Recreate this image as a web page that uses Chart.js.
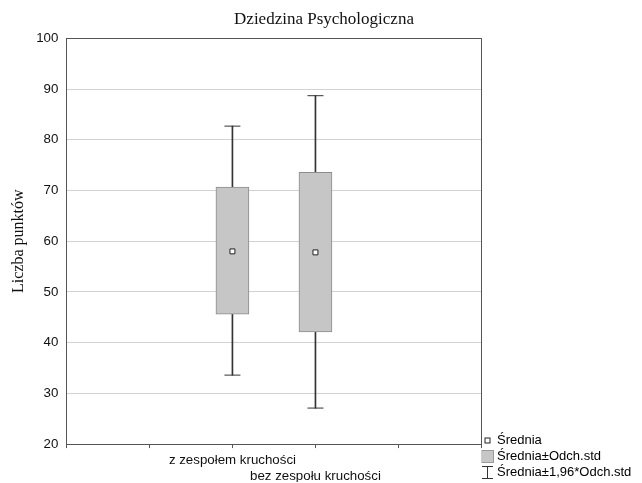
<!DOCTYPE html>
<html>
<head>
<meta charset="utf-8">
<script src="https://cdn.jsdelivr.net/npm/chart.js@4"></script>
<style>
  html, body { margin: 0; padding: 0; background: #fff; }
  #wrap { width: 642px; height: 483px; }
</style>
</head>
<body>
<div id="wrap"><canvas id="chart" width="642" height="483"></canvas></div>
<script>
// groups and their statistics
const categories = ['z zespołem kruchości', 'bez zespołu kruchości']
const means = [58.0, 57.8]
const sdLow = [45.6, 42.1]
const sdHigh = [70.7, 73.6]
const ciLow = [33.6, 27.1]
const ciHigh = [82.7, 88.7]
const slotCount = 6
const slotOf = [2, 3]
const legendNames = ['Średnia', 'Średnia±Odch.std', 'Średnia±1,96*Odch.std']

const SANS = "'Liberation Sans', Arial, sans-serif"
const SERIF = "'Liberation Serif', 'Times New Roman', serif"

// x axis slots, categories sit on the middle ticks, labels staggered
const slotLabels = []
for (let i = 0; i < slotCount; i++) slotLabels.push('')
slotLabels[slotOf[0]] = [categories[0], '']
slotLabels[slotOf[1]] = ['', categories[1]]

function toSlots (values) {
  const out = slotLabels.map(() => null)
  values.forEach((v, i) => { out[slotOf[i]] = v })
  return out
}

// small legend icons
function makeIcon (w, h, draw) {
  const c = document.createElement('canvas')
  c.width = w
  c.height = h
  draw(c.getContext('2d'))
  return c
}
const meanIcon = makeIcon(8, 8, ctx => {
  ctx.fillStyle = '#fff'
  ctx.fillRect(1, 1, 6, 6)
  ctx.strokeStyle = '#222'
  ctx.lineWidth = 1
  ctx.strokeRect(1.5, 1.5, 5, 5)
})
const boxIcon = makeIcon(13, 13, ctx => {
  ctx.fillStyle = '#c6c6c6'
  ctx.fillRect(0, 0, 13, 13)
  ctx.strokeStyle = '#9a9a9a'
  ctx.strokeRect(0.5, 0.5, 12, 12)
})
const whiskerIcon = makeIcon(13, 13, ctx => {
  ctx.strokeStyle = '#333'
  ctx.lineWidth = 1
  ctx.beginPath()
  ctx.moveTo(1, 0.5); ctx.lineTo(12, 0.5)
  ctx.moveTo(6.5, 0.5); ctx.lineTo(6.5, 12.5)
  ctx.moveTo(1, 12.5); ctx.lineTo(12, 12.5)
  ctx.stroke()
})
const legendIcons = [meanIcon, boxIcon, whiskerIcon]

const frame = {
  id: 'frame',
  afterDraw (chart) {
    const a = chart.chartArea
    const ctx = chart.ctx
    ctx.save()
    ctx.strokeStyle = '#555'
    ctx.lineWidth = 1
    ctx.strokeRect(Math.round(a.left) + 0.5, Math.round(a.top) + 0.5, Math.round(a.right - a.left), Math.round(a.bottom - a.top))
    ctx.restore()
  }
}

const capStyle = {
  type: 'line',
  showLine: false,
  pointStyle: 'line',
  pointRadius: 8,
  pointBorderColor: '#333',
  pointBorderWidth: 1,
  order: 3
}

const chart = new Chart(document.getElementById('chart'), {
  type: 'bar',
  data: {
    labels: slotLabels,
    datasets: [{
      type: 'line',
      label: 'mean',
      data: toSlots(means),
      showLine: false,
      pointStyle: 'rect',
      pointRadius: 3.5,
      pointBackgroundColor: '#fff',
      pointBorderColor: '#222',
      pointBorderWidth: 1,
      order: 1
    }, {
      label: 'sd',
      data: toSlots(sdLow.map((v, i) => [v, sdHigh[i]])),
      grouped: false,
      barThickness: 33,
      backgroundColor: '#c6c6c6',
      borderColor: '#8c8c8c',
      borderWidth: 1,
      borderSkipped: false,
      order: 2
    }, {
      label: 'ci',
      data: toSlots(ciLow.map((v, i) => [v, ciHigh[i]])),
      grouped: false,
      barThickness: 1,
      backgroundColor: '#333',
      borderWidth: 0,
      order: 4
    }, Object.assign({ label: 'ciLow', data: toSlots(ciLow) }, capStyle),
    Object.assign({ label: 'ciHigh', data: toSlots(ciHigh) }, capStyle)]
  },
  options: {
    responsive: false,
    animation: false,
    layout: { padding: { left: 9, right: 3, top: 4, bottom: 1 } },
    plugins: {
      tooltip: { enabled: false },
      title: {
        display: true,
        text: 'Dziedzina Psychologiczna',
        color: '#111',
        font: { family: SERIF, size: 17, weight: 'normal' },
        padding: { top: 5, bottom: 9 }
      },
      legend: {
        position: 'right',
        align: 'end',
        labels: {
          usePointStyle: true,
          boxWidth: 6,
          boxHeight: 12,
          padding: 3,
          color: '#111',
          font: { family: SANS, size: 13 },
          generateLabels: () => legendNames.map((t, i) => ({
            text: t,
            pointStyle: legendIcons[i],
            fillStyle: '#fff',
            strokeStyle: '#fff',
            lineWidth: 0,
            hidden: false,
            datasetIndex: 0
          }))
        }
      }
    },
    scales: {
      x: {
        offset: false,
        grid: { display: true, offset: false, drawOnChartArea: false, drawTicks: true, tickLength: 4, color: '#555' },
        border: { color: '#555' },
        ticks: {
          autoSkip: false,
          maxRotation: 0,
          padding: 4,
          color: '#111',
          font: { family: SANS, size: 13.3, lineHeight: 1.2 }
        },
        afterFit (scale) { scale.height -= 6 }
      },
      y: {
        min: 20,
        max: 100,
        grid: { color: '#d2d2d2', drawTicks: false },
        border: { color: '#555' },
        ticks: {
          stepSize: 10,
          padding: 8,
          color: '#111',
          font: { family: SANS, size: 13.3 }
        },
        title: {
          display: true,
          text: 'Liczba punktów',
          color: '#111',
          font: { family: SERIF, size: 16 },
          padding: { top: 0, bottom: 0 }
        }
      }
    }
  },
  plugins: [frame]
})
</script>
</body>
</html>
